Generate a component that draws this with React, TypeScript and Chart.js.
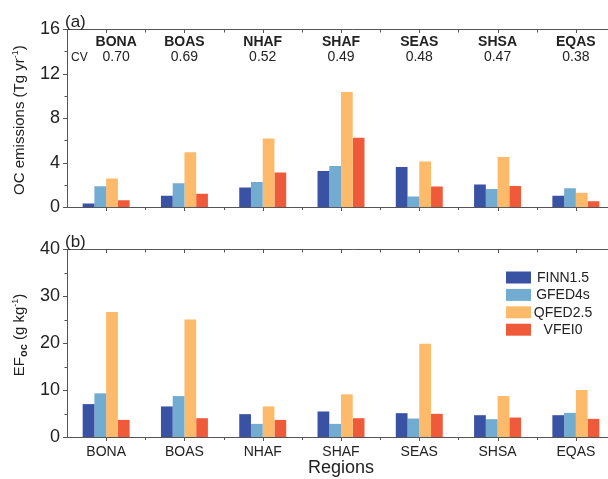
import { useEffect, useRef } from 'react';
import { Chart, registerables } from 'chart.js';

Chart.register(...registerables);

// ---------- data ----------
const regions = ['BONA', 'BOAS', 'NHAF', 'SHAF', 'SEAS', 'SHSA', 'EQAS'];
const cvValues = [0.7, 0.69, 0.52, 0.49, 0.48, 0.47, 0.38];
const seriesNames = ['FINN1.5', 'GFED4s', 'QFED2.5', 'VFEI0'];

// (a) OC emissions (Tg yr-1)
const ocFINN = [0.34, 1.03, 1.77, 3.26, 3.6, 2.03, 1.03];
const ocGFED = [1.89, 2.14, 2.26, 3.71, 0.97, 1.63, 1.71];
const ocQFED = [2.57, 4.94, 6.17, 10.34, 4.11, 4.51, 1.29];
const ocVFEI = [0.63, 1.2, 3.11, 6.23, 1.86, 1.91, 0.54];

// (b) EF_oc (g kg-1)
const efFINN = [7.0, 6.5, 4.86, 5.43, 5.07, 4.64, 4.64];
const efGFED = [9.29, 8.71, 2.79, 2.79, 3.93, 3.79, 5.14];
const efQFED = [26.6, 25.0, 6.5, 9.07, 19.86, 8.71, 10.0];
const efVFEI = [3.64, 4.0, 3.64, 4.0, 4.93, 4.14, 3.86];

// axis ranges / ticks
const ocAxis = { max: 16, major: 4, minor: 2 };
const efAxis = { max: 40, major: 10, minor: 5 };

const colors = ['#3a52a4', '#72acd1', '#fdba6b', '#ef5b3a'];

const FONT = "'Liberation Sans', Arial, Helvetica, sans-serif";
const AXIS = '#555555';
const TXT = '#222222';

type Part = { t: string; s: number; bold?: boolean; dy?: number };

function drawRotatedTitle(ctx: CanvasRenderingContext2D, parts: Part[], cx: number, cy: number) {
  ctx.save();
  ctx.fillStyle = TXT;
  ctx.textBaseline = 'alphabetic';
  ctx.textAlign = 'left';
  let total = 0;
  const widths = parts.map((p) => {
    ctx.font = `${p.bold ? 'bold ' : ''}${p.s}px ${FONT}`;
    const w = ctx.measureText(p.t).width;
    total += w;
    return w;
  });
  ctx.translate(cx, cy);
  ctx.rotate(-Math.PI / 2);
  let x = -total / 2;
  parts.forEach((p, i) => {
    ctx.font = `${p.bold ? 'bold ' : ''}${p.s}px ${FONT}`;
    ctx.fillText(p.t, x, 5 + (p.dy || 0));
    x += widths[i];
  });
  ctx.restore();
}

function framePlugin(cfg: {
  panel: string;
  axis: { max: number; major: number; minor: number };
  title: Part[];
  titleShift: number;
  cv?: boolean;
  legend?: boolean;
}) {
  return {
    id: 'frame' + cfg.panel,
    afterDraw(chart: any) {
      const ctx: CanvasRenderingContext2D = chart.ctx;
      const area = chart.chartArea;
      const xs = chart.scales.x;
      const ys = chart.scales.y;
      ctx.save();
      ctx.strokeStyle = AXIS;
      ctx.lineWidth = 1;
      ctx.beginPath();
      // top frame line
      const topY = Math.round(area.top) + 0.5;
      ctx.moveTo(area.left, topY);
      ctx.lineTo(chart.width, topY);
      // y ticks (outward)
      for (let v = 0; v <= cfg.axis.max + 1e-9; v += cfg.axis.minor) {
        const py = Math.round(ys.getPixelForValue(v)) + 0.5;
        const len = Math.abs(v % cfg.axis.major) < 1e-9 ? 4 : 2.5;
        ctx.moveTo(area.left - len, py);
        ctx.lineTo(area.left, py);
      }
      // x ticks
      const n = regions.length;
      const botY = Math.round(area.bottom);
      for (let i = 0; i < n; i++) {
        const px = Math.round(xs.getPixelForValue(i)) + 0.5;
        ctx.moveTo(px, botY);
        ctx.lineTo(px, botY + 4);
        ctx.moveTo(px, topY);
        ctx.lineTo(px, topY + 3.5);
        if (i < n - 1) {
          const pm = Math.round(xs.getPixelForValue(i + 0.5)) + 0.5;
          ctx.moveTo(pm, botY);
          ctx.lineTo(pm, botY + 3);
          ctx.moveTo(pm, topY);
          ctx.lineTo(pm, topY + 3);
        }
      }
      ctx.stroke();

      // panel label
      ctx.fillStyle = TXT;
      ctx.font = `17px ${FONT}`;
      ctx.textAlign = 'left';
      ctx.textBaseline = 'alphabetic';
      ctx.fillText(cfg.panel, area.left - 2, area.top - 2);

      // y title
      drawRotatedTitle(ctx, cfg.title, 19, (area.top + area.bottom) / 2 + cfg.titleShift);

      if (cfg.cv) {
        ctx.textAlign = 'center';
        ctx.textBaseline = 'middle';
        regions.forEach((r, i) => {
          const px = xs.getPixelForValue(i) + (i === 0 ? 10 : 0);
          ctx.font = `bold 14px ${FONT}`;
          ctx.fillText(r, px, area.top + 13);
          ctx.font = `14px ${FONT}`;
          ctx.fillText(cvValues[i].toFixed(2), px, area.top + 28);
        });
        ctx.textAlign = 'left';
        ctx.font = `12px ${FONT}`;
        ctx.fillText('CV', area.left + 4, area.top + 29);
      }

      if (cfg.legend) {
        chart.data.datasets.forEach((ds: any, i: number) => {
          const by = area.top + 22.5 + i * 17.4;
          ctx.fillStyle = ds.backgroundColor;
          ctx.fillRect(506, by, 25, 12);
          ctx.fillStyle = TXT;
          ctx.font = `14px ${FONT}`;
          ctx.textAlign = 'center';
          ctx.textBaseline = 'middle';
          ctx.fillText(ds.label, 563, by + 6.5);
        });
      }
      ctx.restore();
    },
  };
}

function makeConfig(
  series: number[][],
  axis: { max: number; major: number; minor: number },
  showX: boolean,
  padTop: number,
  xHeight: number,
  plugin: any
): any {
  return {
    type: 'bar',
    data: {
      labels: regions,
      datasets: series.map((d, i) => ({
        label: seriesNames[i],
        data: d,
        backgroundColor: colors[i],
        borderWidth: 0,
        barPercentage: 1,
        categoryPercentage: 0.6,
      })),
    },
    options: {
      responsive: false,
      animation: false,
      devicePixelRatio: 1,
      layout: { padding: { left: 0, top: padTop, right: 25, bottom: 0 } },
      plugins: { legend: { display: false }, tooltip: { enabled: false } },
      scales: {
        x: {
          type: 'category',
          offset: true,
          grid: { display: false, drawTicks: false },
          border: { display: true, color: AXIS, width: 1 },
          ticks: {
            display: showX,
            color: TXT,
            font: { family: FONT, size: 14 },
            padding: 7,
            maxRotation: 0,
            autoSkip: false,
          },
          title: {
            display: showX,
            text: 'Regions',
            color: TXT,
            font: { family: FONT, size: 18 },
            padding: { top: 0, bottom: 0 },
          },
          afterFit: (s: any) => {
            s.height = xHeight;
          },
        },
        y: {
          type: 'linear',
          min: 0,
          max: axis.max,
          grid: { display: false, drawTicks: false },
          border: { display: true, color: AXIS, width: 1 },
          ticks: {
            stepSize: axis.major,
            color: TXT,
            font: { family: FONT, size: 18 },
            padding: 7,
            autoSkip: false,
          },
          afterFit: (s: any) => {
            s.width = 67;
          },
        },
      },
    },
    plugins: [plugin],
  };
}

export default function App() {
  const refA = useRef<HTMLCanvasElement>(null);
  const refB = useRef<HTMLCanvasElement>(null);

  useEffect(() => {
    const a = new Chart(
      refA.current as HTMLCanvasElement,
      makeConfig(
        [ocFINN, ocGFED, ocQFED, ocVFEI],
        ocAxis,
        false,
        29,
        9,
        framePlugin({
          panel: '(a)',
          axis: ocAxis,
          title: [
            { t: 'OC emissions (Tg yr', s: 15 },
            { t: '-1', s: 9, dy: -6 },
            { t: ')', s: 15 },
          ],
          titleShift: 2,
          cv: true,
        })
      )
    );
    const b = new Chart(
      refB.current as HTMLCanvasElement,
      makeConfig(
        [efFINN, efGFED, efQFED, efVFEI],
        efAxis,
        true,
        24,
        42,
        framePlugin({
          panel: '(b)',
          axis: efAxis,
          title: [
            { t: 'EF', s: 15 },
            { t: 'oc', s: 11, bold: true, dy: 3 },
            { t: ' (g kg', s: 15 },
            { t: '-1', s: 9, dy: -6 },
            { t: ')', s: 15 },
          ],
          titleShift: -8,
          legend: true,
        })
      )
    );
    return () => {
      a.destroy();
      b.destroy();
    };
  }, []);

  return (
    <div
      style={{
        position: 'fixed',
        left: 0,
        top: 0,
        width: 608,
        height: 479,
        overflow: 'hidden',
        background: '#fff',
      }}
    >
      <canvas
        ref={refA}
        width={640}
        height={225}
        style={{ position: 'absolute', left: 0, top: 0, width: 640, height: 225 }}
      />
      <canvas
        ref={refB}
        width={640}
        height={254}
        style={{ position: 'absolute', left: 0, top: 225, width: 640, height: 254 }}
      />
    </div>
  );
}
